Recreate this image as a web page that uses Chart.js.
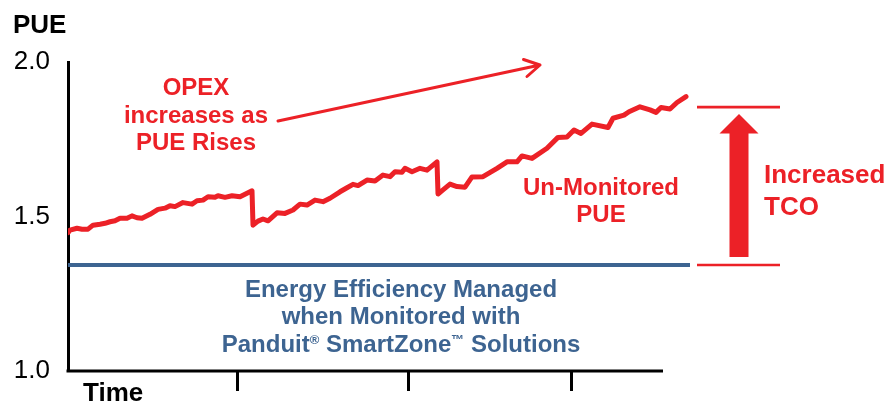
<!DOCTYPE html>
<html>
<head>
<meta charset="utf-8">
<script src="https://cdn.jsdelivr.net/npm/chart.js@4.4.1/dist/chart.umd.min.js"></script>
<style>
  html, body { margin: 0; padding: 0; background: #ffffff; }
  #wrap { width: 890px; height: 409px; position: relative; }
</style>
</head>
<body>
<div id="wrap"><canvas id="c" width="890" height="409"></canvas></div>
<script>
// ---- data ----
const days = [0,2,9,14,20,25,32,37,42,47,52,59,64,69,74,82,90,97,102,107,
  115,124,129,135,140,147,150,157,164,172,184,185,190,195,200,209,217,225,232,239,
  247,255,262,272,279,285,290,299,307,315,322,327,334,337,344,352,359,369,370,375,
  382,389,397,404,415,429,439,449,454,464,479,490,499,506,513,524,540,545,556,561,
  572,582,588,593,602,609,618];
const unmonitoredPUE = [1.448,1.456,1.462,1.459,1.459,1.472,1.475,1.478,1.483,1.486,
  1.494,1.494,1.502,1.496,1.494,1.507,1.523,1.527,1.535,1.532,
  1.545,1.540,1.551,1.553,1.564,1.562,1.567,1.562,1.567,1.564,
  1.583,1.472,1.485,1.492,1.486,1.512,1.510,1.521,1.540,1.537,
  1.553,1.548,1.559,1.580,1.593,1.604,1.600,1.618,1.615,1.634,
  1.629,1.645,1.643,1.656,1.645,1.656,1.650,1.677,1.573,1.586,
  1.605,1.597,1.595,1.628,1.629,1.656,1.677,1.677,1.696,1.688,
  1.721,1.756,1.757,1.780,1.769,1.799,1.788,1.818,1.828,1.839,
  1.855,1.845,1.837,1.853,1.848,1.869,1.888];
const managedDays = [0, 622];
const managedPUE = [1.343, 1.343];
const yTicks = [1.0, 1.5, 2.0];
const timeTicks = [169, 340, 503];
const timeAxisEnd = 595;
const tcoTop = 1.854;
const tcoBottom = 1.343;

const RED = '#ec2127';
const BLUE = '#3d6491';
const FONT = '"Liberation Sans", Arial, Helvetica, sans-serif';

const redPoints = days.map((d, i) => ({ x: d, y: unmonitoredPUE[i] }));
const bluePoints = managedDays.map((d, i) => ({ x: d, y: managedPUE[i] }));

function drawRich(ctx, parts, cx, baseline) {
  let total = 0;
  parts.forEach(p => { ctx.font = p.font; p.w = ctx.measureText(p.t).width; total += p.w; });
  let x = cx - total / 2;
  ctx.textAlign = 'left';
  parts.forEach(p => { ctx.font = p.font; ctx.fillText(p.t, x, baseline - (p.rise || 0)); x += p.w; });
}

const annotations = {
  id: 'annotations',
  afterDraw(chart) {
    const ctx = chart.ctx;
    const xs = chart.scales.x, ys = chart.scales.y;
    ctx.save();
    // x axis line
    ctx.strokeStyle = '#000';
    ctx.lineWidth = 3;
    ctx.beginPath();
    ctx.moveTo(xs.getPixelForValue(0) - 1.5, ys.getPixelForValue(1.0));
    ctx.lineTo(xs.getPixelForValue(timeAxisEnd), ys.getPixelForValue(1.0));
    ctx.stroke();

    // axis titles
    ctx.fillStyle = '#000';
    ctx.font = 'bold 26px ' + FONT;
    ctx.textAlign = 'left';
    ctx.textBaseline = 'alphabetic';
    ctx.fillText('PUE', 13, 33);
    ctx.fillText('Time', 83, 401);

    // OPEX text
    ctx.fillStyle = RED;
    ctx.font = 'bold 24px ' + FONT;
    ctx.textAlign = 'center';
    ctx.fillText('OPEX', 196, 95);
    ctx.fillText('increases as', 196, 122.5);
    ctx.fillText('PUE Rises', 196, 150);

    // thin arrow
    ctx.strokeStyle = RED;
    ctx.lineWidth = 3;
    ctx.lineCap = 'round';
    ctx.lineJoin = 'round';
    ctx.beginPath();
    ctx.moveTo(278, 121);
    ctx.lineTo(540, 65);
    ctx.moveTo(523.5, 59.5);
    ctx.lineTo(540, 65);
    ctx.lineTo(527, 76.5);
    ctx.stroke();

    // Un-Monitored PUE
    ctx.fillText('Un-Monitored', 601, 195);
    ctx.fillText('PUE', 601, 222);

    // blue text
    ctx.fillStyle = BLUE;
    ctx.font = 'bold 24px ' + FONT;
    ctx.fillText('Energy Efficiency Managed', 401, 297);
    ctx.fillText('when Monitored with', 401, 324);
    const big = 'bold 24px ' + FONT, small = 'bold 13px ' + FONT;
    drawRich(ctx, [
      { t: 'Panduit', font: big },
      { t: '\u00AE', font: small, rise: 8 },
      { t: ' SmartZone', font: big },
      { t: '\u2122', font: small, rise: 8 },
      { t: ' Solutions', font: big }
    ], 401, 351.5);

    // TCO markers
    const yTop = ys.getPixelForValue(tcoTop);
    const yBot = ys.getPixelForValue(tcoBottom);
    ctx.strokeStyle = RED;
    ctx.lineWidth = 2.6;
    ctx.lineCap = 'butt';
    ctx.beginPath();
    ctx.moveTo(697, yTop); ctx.lineTo(780, yTop);
    ctx.moveTo(697, yBot); ctx.lineTo(780, yBot);
    ctx.stroke();

    // big arrow
    ctx.fillStyle = RED;
    const tipY = yTop + 7, baseY = yTop + 26.5, botY = yBot - 8;
    ctx.beginPath();
    ctx.moveTo(739, tipY);
    ctx.lineTo(758.5, baseY);
    ctx.lineTo(748.5, baseY);
    ctx.lineTo(748.5, botY);
    ctx.lineTo(729.5, botY);
    ctx.lineTo(729.5, baseY);
    ctx.lineTo(719.5, baseY);
    ctx.closePath();
    ctx.fill();

    ctx.font = 'bold 26px ' + FONT;
    ctx.textAlign = 'left';
    ctx.fillText('Increased', 764, 183);
    ctx.fillText('TCO', 764, 215);
    ctx.restore();
  }
};

new Chart(document.getElementById('c'), {
  type: 'line',
  data: {
    datasets: [
      {
        label: 'Un-Monitored PUE',
        data: redPoints,
        borderColor: RED,
        borderWidth: 5,
        pointRadius: 0,
        tension: 0,
        borderJoinStyle: 'round',
        borderCapStyle: 'round'
      },
      {
        label: 'Managed PUE',
        data: bluePoints,
        borderColor: BLUE,
        borderWidth: 4,
        pointRadius: 0,
        tension: 0
      }
    ]
  },
  options: {
    responsive: false,
    animation: false,
    events: [],
    layout: { padding: { top: 62, right: 200, left: 0, bottom: 0 } },
    plugins: { legend: { display: false }, tooltip: { enabled: false }, title: { display: false } },
    scales: {
      x: {
        type: 'linear',
        min: 0,
        max: 622,
        afterBuildTicks: (s) => { s.ticks = timeTicks.map(v => ({ value: v })); },
        afterFit: (s) => { s.height = 38; },
        border: { display: false },
        grid: { display: true, drawOnChartArea: false, drawTicks: true, tickLength: 20, lineWidth: 3, color: '#000' },
        ticks: { display: false }
      },
      y: {
        min: 1.0,
        max: 2.0,
        afterBuildTicks: (s) => { s.ticks = yTicks.map(v => ({ value: v })); },
        afterFit: (s) => { s.width = 68; },
        border: { display: true, width: 3, color: '#000' },
        grid: { display: false, drawTicks: false },
        ticks: {
          padding: 18,
          color: '#000',
          font: { family: FONT, size: 26 },
          callback: (v) => Number(v).toFixed(1)
        }
      }
    }
  },
  plugins: [annotations]
});
</script>
</body>
</html>
